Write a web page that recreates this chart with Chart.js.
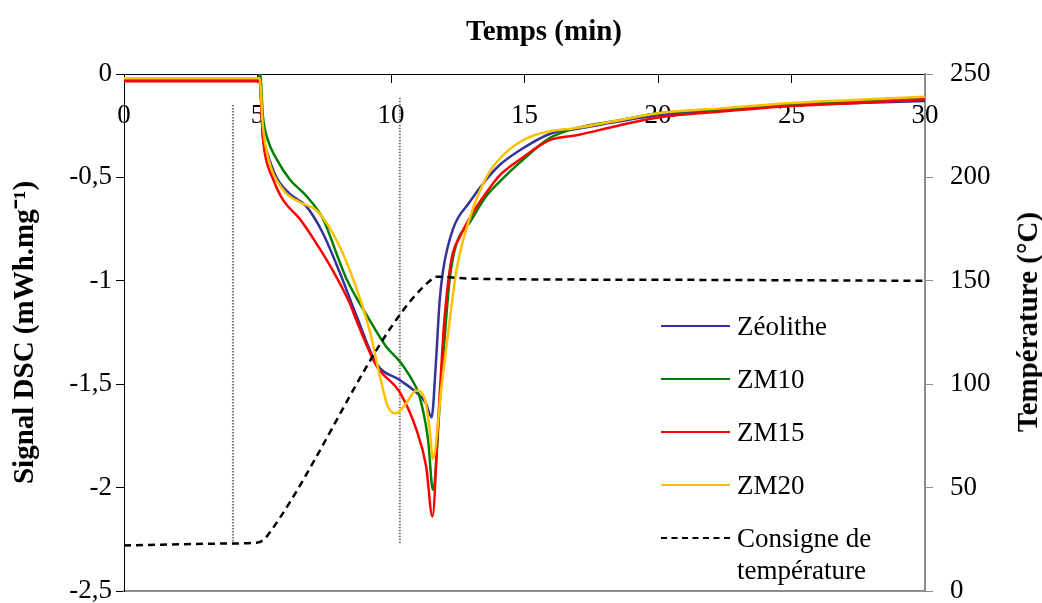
<!DOCTYPE html>
<html lang="fr">
<head>
    <meta charset="UTF-8">
    <title>Signal DSC</title>
    <script src="https://cdn.jsdelivr.net/npm/chart.js"></script>
    <style>
* { margin: 0; padding: 0; box-sizing: border-box; }
body { background: #fff; overflow: hidden; }
.wrap {
    position: relative;
    width: 1042px;
    height: 603px;
    font-family: 'Liberation Serif', 'Times New Roman', serif;
    color: #000;
}
.title {
    position: absolute;
    font-size: 29px;
    font-weight: bold;
    line-height: 34px;
    white-space: nowrap;
}
#mainTitle { left: 544px; top: 13px; transform: translateX(-50%); }
#rightTitle { left: 1027px; top: 322px; transform: translate(-50%, -50%) rotate(-90deg); }
#legend { position: absolute; left: 661px; top: 310px; font-size: 27px; }
.item { position: absolute; left: 0; display: flex; align-items: flex-start; white-space: nowrap; line-height: 32px; }
.swatch { width: 69px; margin-top: 15px; margin-right: 7px; border-top-width: 2.5px; border-top-style: solid; }
    </style>
</head>
<body>
<div class="wrap">
    <canvas id="dscChart" width="1042" height="603"></canvas>
    <div class="title" id="mainTitle">Temps (min)</div>
    <div class="title" id="rightTitle">Température (°C)</div>
    <div id="legend"></div>
</div>

<script>
// time (min) / DSC signal (mWh.mg-1)
const zeoTime = [0, 2.5, 5.08, 5.2, 5.34, 5.71, 6.21, 6.83, 7.45, 8.08, 8.71, 9.45, 10.33, 10.95, 11.3, 11.52, 11.68, 11.82, 11.95, 12.32, 12.94, 13.57, 14.07, 14.81, 15.94, 17, 18.5, 20, 22.5, 25, 27.5, 30];
const zeoSignal = [-0.03, -0.03, -0.03, -0.3, -0.37, -0.50, -0.58, -0.64, -0.77, -0.96, -1.17, -1.40, -1.48, -1.54, -1.59, -1.66, -1.40, -1.10, -0.95, -0.75, -0.62, -0.51, -0.44, -0.37, -0.29, -0.265, -0.23, -0.20, -0.175, -0.15, -0.14, -0.13];

const zm10Time = [0, 2.5, 5.03, 5.1, 5.2, 5.39, 5.71, 6.21, 6.83, 7.45, 8.08, 8.33, 9.2, 9.83, 10.33, 10.7, 11.07, 11.39, 11.57, 11.85, 12.2, 12.45, 12.94, 13.57, 14.07, 14.81, 15.94, 17, 18.5, 20, 22.5, 25, 27.5, 30];
const zm10Signal = [-0.02, -0.02, -0.02, 0, -0.2, -0.32, -0.41, -0.51, -0.59, -0.70, -0.91, -0.99, -1.19, -1.32, -1.39, -1.46, -1.56, -1.77, -2.01, -1.55, -0.99, -0.82, -0.72, -0.59, -0.52, -0.43, -0.31, -0.26, -0.225, -0.19, -0.17, -0.15, -0.13, -0.115];

const zm15Time = [0, 2.5, 5.08, 5.2, 5.27, 5.59, 5.96, 6.58, 7.21, 7.82, 8.46, 8.7, 9.45, 10.33, 10.95, 11.32, 11.55, 11.78, 12.0, 12.26, 12.57, 13.07, 13.82, 14.07, 14.81, 15.94, 17, 18.5, 20, 22.5, 25, 27.5, 30];
const zm15Signal = [-0.035, -0.035, -0.035, -0.30, -0.38, -0.51, -0.61, -0.70, -0.82, -0.95, -1.11, -1.19, -1.41, -1.54, -1.72, -1.90, -2.14, -1.65, -1.19, -0.90, -0.79, -0.67, -0.53, -0.49, -0.415, -0.32, -0.295, -0.25, -0.21, -0.18, -0.155, -0.14, -0.122];

const zm20Time = [0, 2.5, 5.08, 5.2, 5.39, 5.96, 6.58, 7.21, 7.82, 8.46, 9.2, 9.58, 9.89, 10.2, 10.58, 10.95, 11.26, 11.45, 11.57, 11.9, 12.2, 12.45, 12.94, 13.57, 14.07, 14.81, 15.4, 15.81, 17, 18.5, 20, 22.5, 25, 27.5, 30];
const zm20Signal = [-0.02, -0.02, -0.02, -0.25, -0.40, -0.56, -0.62, -0.66, -0.77, -0.95, -1.24, -1.46, -1.61, -1.64, -1.59, -1.53, -1.57, -1.72, -1.86, -1.5, -1.19, -0.95, -0.70, -0.50, -0.41, -0.33, -0.295, -0.28, -0.26, -0.225, -0.19, -0.165, -0.14, -0.125, -0.11];

// temperature set point (°C)
const consigneTime = [0, 4.08, 5.0, 5.25, 5.5, 11.6, 11.75, 13, 20, 30];
const consigneTemp = [22, 23, 23.4, 25, 29, 151.5, 152, 151, 150.5, 150];

// dotted vertical markers
const markerTimes = [4.08, 10.33];
const markerTops = [-0.15, -0.115];
const markerBottom = -2.275;

const seriesNames = ['Zéolithe', 'ZM10', 'ZM15', 'ZM20', 'Consigne de\ntempérature'];
const seriesColors = ['#33339a', '#008000', '#ff0000', '#ffc000', '#000000'];

function pts(xs, ys) {
    return xs.map((x, i) => ({ x: x, y: ys[i] }));
}

const serif = "'Liberation Serif', 'Times New Roman', serif";
Chart.defaults.font.family = serif;
Chart.defaults.font.size = 27;
Chart.defaults.color = '#000';

const dscSets = [
    [zeoTime, zeoSignal],
    [zm10Time, zm10Signal],
    [zm15Time, zm15Signal],
    [zm20Time, zm20Signal]
].map((s, i) => ({
    label: seriesNames[i],
    data: pts(s[0], s[1]),
    yAxisID: 'y',
    borderColor: seriesColors[i],
    borderWidth: 2.5,
    pointRadius: 0,
    cubicInterpolationMode: 'monotone',
    order: 5 - i
}));

const markerSets = markerTimes.map((t, i) => ({
    label: 'marker' + i,
    data: [{ x: t, y: markerTops[i] }, { x: t, y: markerBottom }],
    yAxisID: 'y',
    borderColor: '#777',
    borderWidth: 2,
    borderDash: [1.5, 1.5],
    pointRadius: 0,
    order: 10
}));

const tempSet = {
    label: seriesNames[4],
    data: pts(consigneTime, consigneTemp),
    yAxisID: 'y2',
    borderColor: '#000',
    borderWidth: 2.5,
    borderDash: [7, 5],
    pointRadius: 0,
    cubicInterpolationMode: 'monotone',
    order: 0
};

// keep the tick labels from pushing the plot area in
function trimPadding(scale) {
    scale.paddingTop = 10;
    scale.paddingBottom = 10;
}

const ctx = document.getElementById('dscChart').getContext('2d');
new Chart(ctx, {
    type: 'line',
    data: { datasets: dscSets.concat(markerSets, [tempSet]) },
    options: {
        responsive: false,
        animation: false,
        layout: { padding: { top: 74 } },
        plugins: {
            legend: { display: false },
            tooltip: { enabled: false }
        },
        scales: {
            x: {
                type: 'linear',
                position: { y: 0 },
                min: 0,
                max: 30,
                ticks: { stepSize: 5, padding: 18, maxRotation: 0 },
                grid: { drawOnChartArea: false, tickLength: 8, color: '#000' },
                border: { color: '#000', width: 1 }
            },
            x2: {
                type: 'linear',
                position: 'bottom',
                min: 0,
                max: 30,
                ticks: { display: false },
                grid: { display: false },
                border: { color: '#8c8c8c', width: 2 },
                afterFit: (scale) => { scale.height = 12; }
            },
            y: {
                position: 'left',
                min: -2.5,
                max: 0,
                ticks: {
                    stepSize: 0.5,
                    padding: 4,
                    callback: (v) => String(v).replace('.', ',')
                },
                grid: { drawOnChartArea: false, tickLength: 8, color: '#000' },
                border: { color: '#000', width: 1 },
                title: {
                    display: true,
                    text: 'Signal DSC (mWh.mg⁻¹)',
                    font: { size: 29, weight: 'bold', lineHeight: 1.2 },
                    padding: { top: 8.6, bottom: 0 }
                },
                afterFit: (scale) => { scale.width = 124; trimPadding(scale); }
            },
            y2: {
                position: 'right',
                min: 0,
                max: 250,
                ticks: { stepSize: 50, padding: 17 },
                grid: { drawOnChartArea: false, tickLength: 8, color: '#8c8c8c' },
                border: { color: '#8c8c8c', width: 2 },
                afterFit: (scale) => { scale.width = 117; trimPadding(scale); }
            }
        }
    }
});

// legend drawn next to the plot, from the same names and colours
const legend = document.getElementById('legend');
seriesNames.forEach((name, i) => {
    const item = document.createElement('div');
    item.className = 'item';
    item.style.top = (i * 53) + 'px';
    const sw = document.createElement('span');
    sw.className = 'swatch';
    sw.style.borderTopColor = seriesColors[i];
    if (i === 4) sw.style.borderTopStyle = 'dashed';
    const txt = document.createElement('span');
    txt.innerHTML = name.replace('\n', '<br>');
    item.appendChild(sw);
    item.appendChild(txt);
    legend.appendChild(item);
});
</script>
</body>
</html>
